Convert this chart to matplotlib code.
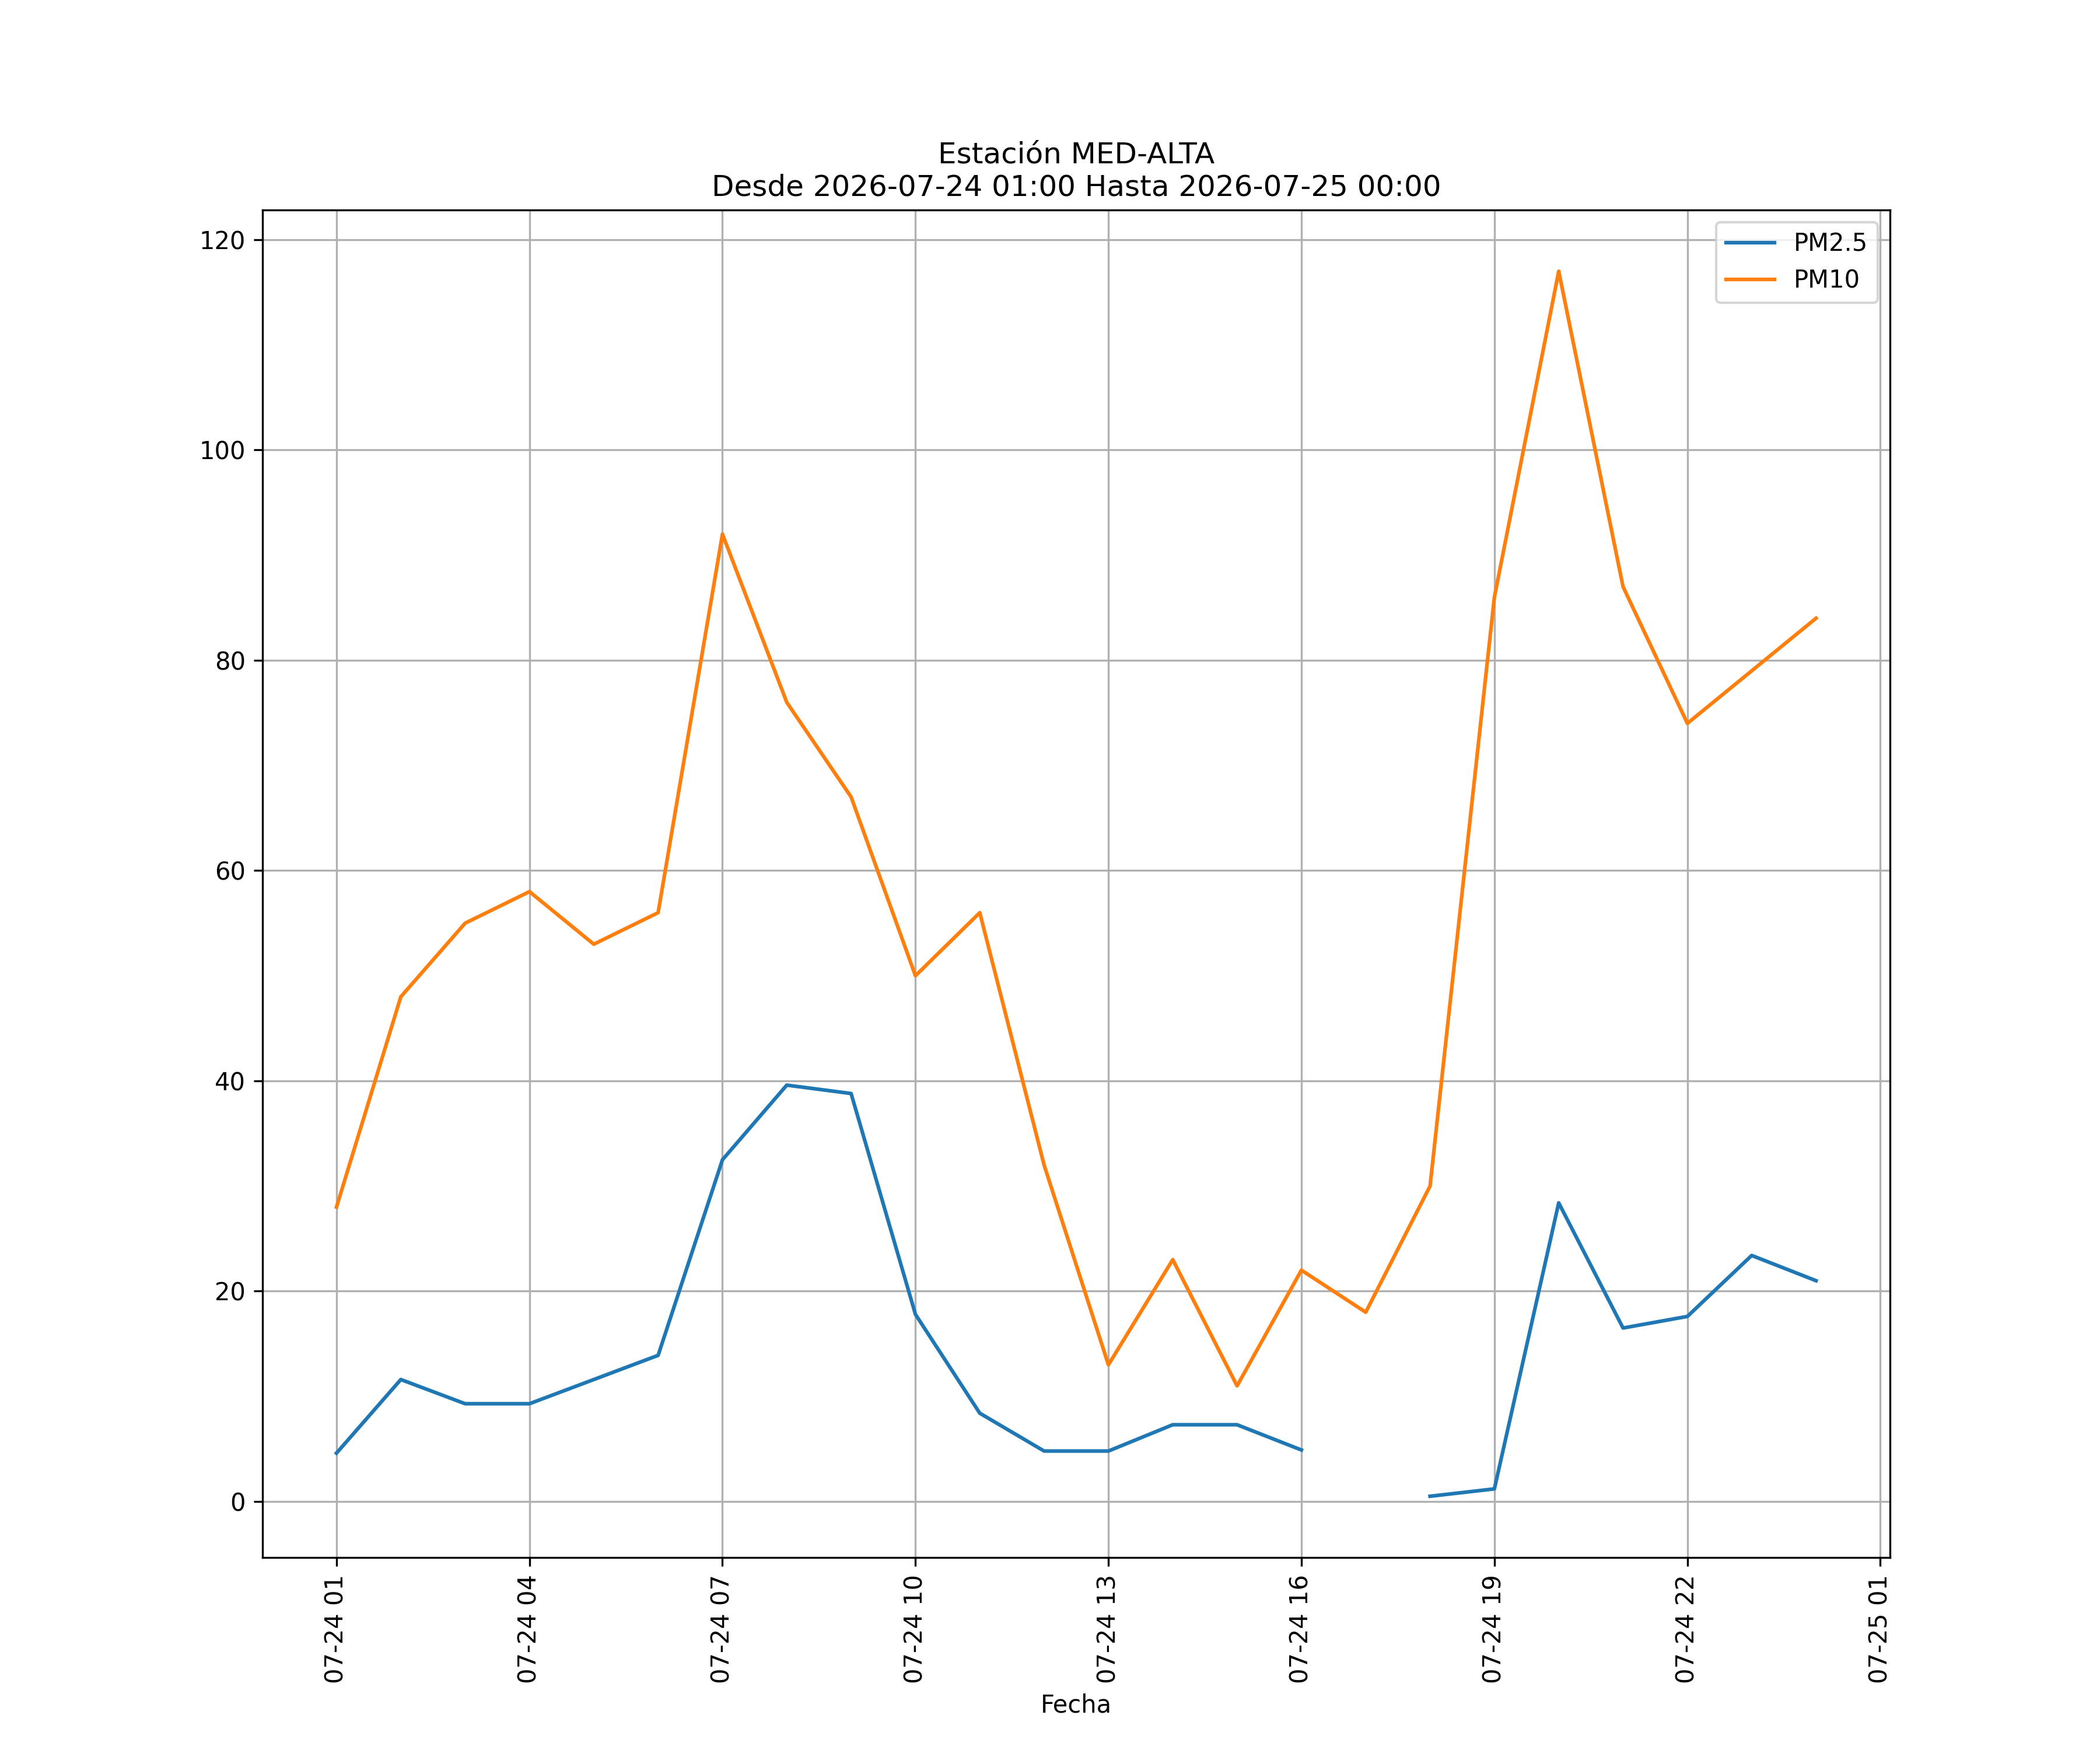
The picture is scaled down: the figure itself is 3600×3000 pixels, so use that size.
import numpy as np
import pandas as pd
import matplotlib
matplotlib.use("Agg")
import matplotlib.pyplot as plt
import matplotlib.dates as mdates

# horas medidas (2026-07-24 01:00 .. 2026-07-25 00:00)
fechas = pd.date_range("2026-07-24 01:00", "2026-07-25 00:00", freq="h")

pm25 = [4.6, 11.6, 9.3, 9.3, 11.6, 13.9, 32.5, 39.6, 38.8, 17.8, 8.4, 4.8,
        4.8, 7.3, 7.3, 4.9, np.nan, 0.5, 1.2, 28.4, 16.5, 17.6, 23.4, 21.0]
pm10 = [28, 48, 55, 58, 53, 56, 92, 76, 67, 50, 56, 32,
        13, 23, 11, 22, 18, 30, 86, 117, 87, 74, 79, 84]

estacion = "MED-ALTA"

fig, ax = plt.subplots(figsize=(12, 10))
ax.plot(fechas, pm25, label="PM2.5")
ax.plot(fechas, pm10, label="PM10")

ax.set_title("Estación " + estacion + "\nDesde " + fechas[0].strftime("%Y-%m-%d %H:%M")
             + " Hasta " + fechas[-1].strftime("%Y-%m-%d %H:%M"))
ax.set_xlabel("Fecha")
ax.xaxis.set_major_locator(mdates.HourLocator(interval=3))
ax.xaxis.set_major_formatter(mdates.DateFormatter("%m-%d %H"))
plt.xticks(rotation=90)
ax.grid(True)
ax.legend(loc="upper right")

fig.savefig("out.png", dpi=300)
